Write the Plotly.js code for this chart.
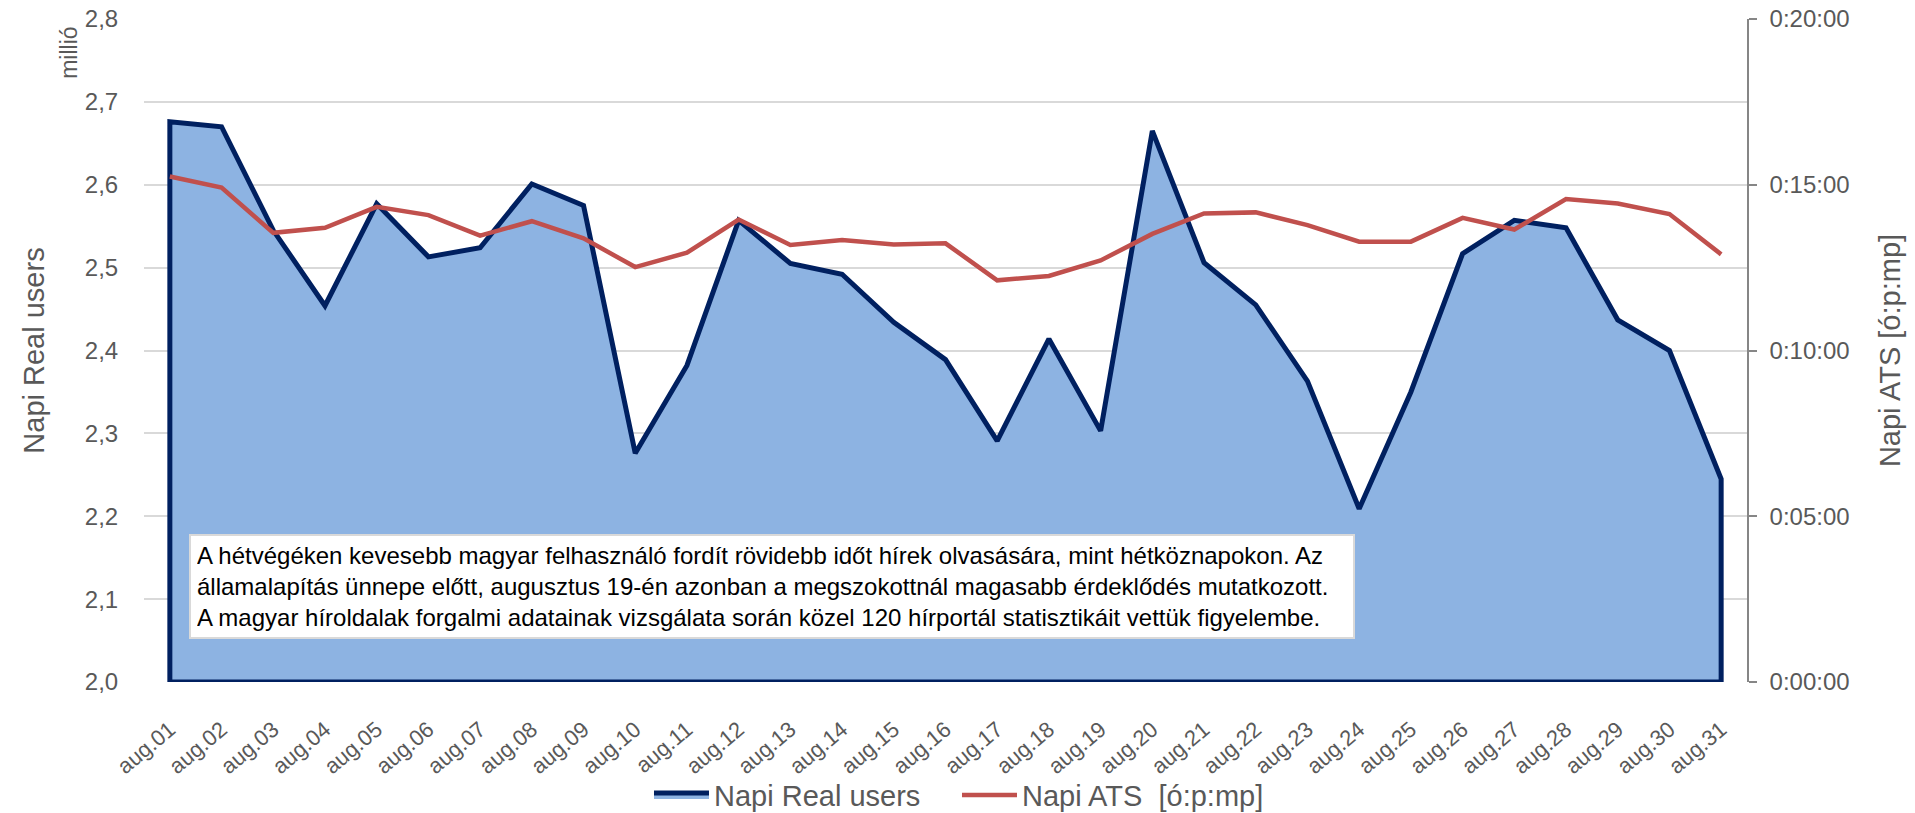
<!DOCTYPE html>
<html>
<head>
<meta charset="utf-8">
<script src="https://cdn.plot.ly/plotly-3.0.1.min.js"></script>
<style>
html,body{margin:0;padding:0;background:#fff;}
#chart{width:1915px;height:813px;}
</style>
</head>
<body>
<div id="chart"></div>
<script>
// ---- data ----
const categories = ['aug.01','aug.02','aug.03','aug.04','aug.05','aug.06','aug.07','aug.08','aug.09','aug.10',
  'aug.11','aug.12','aug.13','aug.14','aug.15','aug.16','aug.17','aug.18','aug.19','aug.20',
  'aug.21','aug.22','aug.23','aug.24','aug.25','aug.26','aug.27','aug.28','aug.29','aug.30','aug.31'];

// Napi Real users (millió)
const realUsers = [2.676, 2.670, 2.545, 2.454, 2.577, 2.513, 2.524, 2.601, 2.575, 2.276,
  2.382, 2.557, 2.505, 2.492, 2.434, 2.389, 2.291, 2.414, 2.303, 2.665,
  2.506, 2.455, 2.363, 2.209, 2.350, 2.517, 2.557, 2.548, 2.437, 2.400, 2.245];

// Napi ATS in seconds
const atsSeconds = [915, 895, 813, 822, 860, 845, 808, 834, 803, 751,
  777, 837, 791, 800, 792, 794, 727, 735, 763, 811,
  848, 850, 827, 797, 797, 840, 819, 874, 866, 847, 774];

const usersRange = [2.0, 2.8];
const atsTickVals = [0, 300, 600, 900, 1200];
const atsTickText = ['0:00:00', '0:05:00', '0:10:00', '0:15:00', '0:20:00'];

const seriesNames = ['Napi Real users', 'Napi ATS\u00a0\u00a0[ó:p:mp]'];
const leftTitle = 'Napi Real users';
const rightTitle = 'Napi ATS [ó:p:mp]';
const unitLabel = 'millió';
const noteLines = [
  'A hétvégéken kevesebb magyar felhasználó fordít rövidebb időt hírek olvasására, mint hétköznapokon. Az',
  'államalapítás ünnepe előtt, augusztus 19-én azonban a megszokottnál magasabb érdeklődés mutatkozott.',
  'A magyar híroldalak forgalmi adatainak vizsgálata során közel 120 hírportál statisztikáit vettük figyelembe.'
];

// ---- build area polygon (closed down to the axis minimum) ----
const base = usersRange[0];
const n = categories.length;
const areaX = [categories[0]].concat(categories, [categories[n - 1], categories[0]]);
const areaY = [base].concat(realUsers, [base, base]);

const FONT = '"Liberation Sans", Arial, sans-serif';
const GRAY = '#595959';

const traces = [
  {
    type: 'scatter', mode: 'lines', name: seriesNames[0],
    x: areaX, y: areaY, fill: 'toself', fillcolor: '#8db3e2',
    line: {color: '#002060', width: 5, shape: 'linear'},
    yaxis: 'y', xaxis: 'x', hoverinfo: 'skip'
  },
  {
    type: 'scatter', mode: 'lines', name: seriesNames[1],
    x: categories, y: atsSeconds,
    line: {color: '#c0504d', width: 4.5},
    yaxis: 'y2', xaxis: 'x'
  }
];

const layout = {
  width: 1915, height: 813,
  margin: {l: 144, r: 168, t: 19, b: 131},
  paper_bgcolor: '#ffffff', plot_bgcolor: '#ffffff',
  separators: ', ',
  font: {family: FONT, color: GRAY},
  showlegend: true,
  legend: {
    orientation: 'h', xref: 'container', yref: 'container',
    x: 0.3389, xanchor: 'left', y: 0.0221, yanchor: 'middle',
    itemwidth: 55, entrywidth: 238, entrywidthmode: 'pixels',
    font: {family: FONT, size: 29, color: GRAY}, bgcolor: 'rgba(0,0,0,0)',
    traceorder: 'normal'
  },
  xaxis: {
    type: 'category', categoryorder: 'array', categoryarray: categories,
    range: [-0.5, n - 0.5],
    tickangle: -40, tickfont: {family: FONT, size: 22, color: GRAY},
    showgrid: false, showline: false, zeroline: false,
    ticks: 'outside', ticklen: 25, tickcolor: 'rgba(0,0,0,0)',
    automargin: false, fixedrange: true
  },
  yaxis: {
    range: usersRange, tick0: 2.0, dtick: 0.1, tickformat: '.1f',
    gridcolor: '#d9d9d9', gridwidth: 1.5,
    showline: false, zeroline: false,
    ticks: 'outside', ticklen: 20, tickcolor: 'rgba(0,0,0,0)',
    tickfont: {family: FONT, size: 24, color: GRAY},
    title: {text: leftTitle, font: {family: FONT, size: 29, color: GRAY}, standoff: 31},
    automargin: false, fixedrange: true
  },
  yaxis2: {
    overlaying: 'y', side: 'right', range: [0, 1200],
    tickmode: 'array', tickvals: atsTickVals, ticktext: atsTickText,
    showgrid: false, zeroline: false,
    showline: true, linecolor: '#868686', linewidth: 1.5,
    ticks: 'outside', ticklen: 8, tickcolor: '#868686', tickwidth: 1.5,
    ticklabelstandoff: 8,
    tickfont: {family: FONT, size: 24, color: GRAY},
    title: {text: rightTitle, font: {family: FONT, size: 29, color: GRAY}, standoff: 31},
    automargin: false, fixedrange: true
  },
  annotations: [
    {
      xref: 'paper', yref: 'paper', x: 0.0281, y: 0.2232, xanchor: 'left', yanchor: 'top',
      text: noteLines.join('<br>'), align: 'left', showarrow: false,
      width: 1150, height: 89, borderpad: 6,
      bgcolor: '#ffffff', bordercolor: '#d9d9d9', borderwidth: 2,
      font: {family: FONT, size: 24, color: '#000000'}
    },
    {
      xref: 'paper', yref: 'paper', x: -0.0468, y: 0.949, xanchor: 'center', yanchor: 'middle',
      text: unitLabel, textangle: -90, showarrow: false,
      font: {family: FONT, size: 23, color: GRAY}
    }
  ]
};

Plotly.newPlot('chart', traces, layout, {displayModeBar: false, staticPlot: false, responsive: false});
</script>
</body>
</html>
